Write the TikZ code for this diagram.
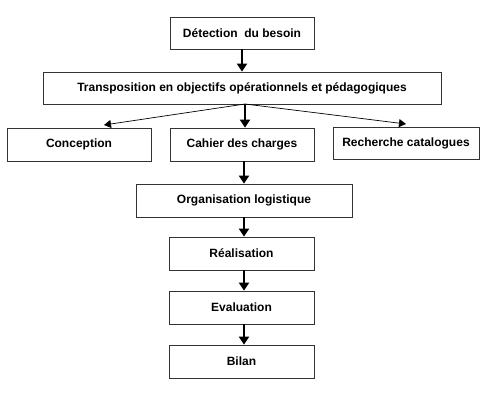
\documentclass[tikz,border=0pt]{standalone}
\usepackage{fontspec}
\setmainfont{Liberation Sans}
\usetikzlibrary{arrows.meta}
\begin{document}
\begin{tikzpicture}[x=1pt,y=-1pt,
  box/.style={draw=black!80,line width=0.8pt,fill=white,font=\bfseries\fontsize{12}{14}\selectfont},
  thick arrow/.style={-{Triangle[length=8pt,width=10pt]},line width=2pt},
  thin arrow/.style={-{Triangle[length=7pt,width=8pt]},line width=0.7pt}]
\useasboundingbox (0,0) rectangle (483,407);
\node[box,minimum width=144pt,minimum height=32pt] (det) at (242,33) {Détection\ \ du besoin};
\node[box,minimum width=398pt,minimum height=32pt] (trans) at (242,88) {Transposition en objectifs opérationnels et pédagogiques};
\node[box,minimum width=144pt,minimum height=33pt] (conc) at (79,144.5) {Conception};
\node[box,minimum width=144pt,minimum height=33pt] (cah) at (242,144.5) {Cahier des charges};
\node[box,minimum width=146pt,minimum height=32pt] (rech) at (406,143) {Recherche catalogues};
\node[box,minimum width=216pt,minimum height=33pt] (org) at (244,200.5) {Organisation logistique};
\node[box,minimum width=145pt,minimum height=33pt] (rea) at (241.5,253.5) {Réalisation};
\node[box,minimum width=145pt,minimum height=33pt] (eva) at (241.5,307.5) {Evaluation};
\node[box,minimum width=145pt,minimum height=33pt] (bil) at (241.5,361.5) {Bilan};
\coordinate (tb) at (245,104);
\draw[thick arrow] (det.south) -- (trans.north);
\draw[thick arrow] (tb) -- (cah.north -| tb);
\draw[thin arrow] (tb) -- (104,125);
\draw[thin arrow] (tb) -- (406,124);
\draw[thick arrow] (cah.south -| 244,0) -- (org.north);
\draw[thick arrow] (org.south) -- (org.south |- rea.north);
\draw[thick arrow] (rea.south -| org.south) -- (eva.north -| org.south);
\draw[thick arrow] (eva.south -| org.south) -- (bil.north -| org.south);
\end{tikzpicture}
\end{document}
